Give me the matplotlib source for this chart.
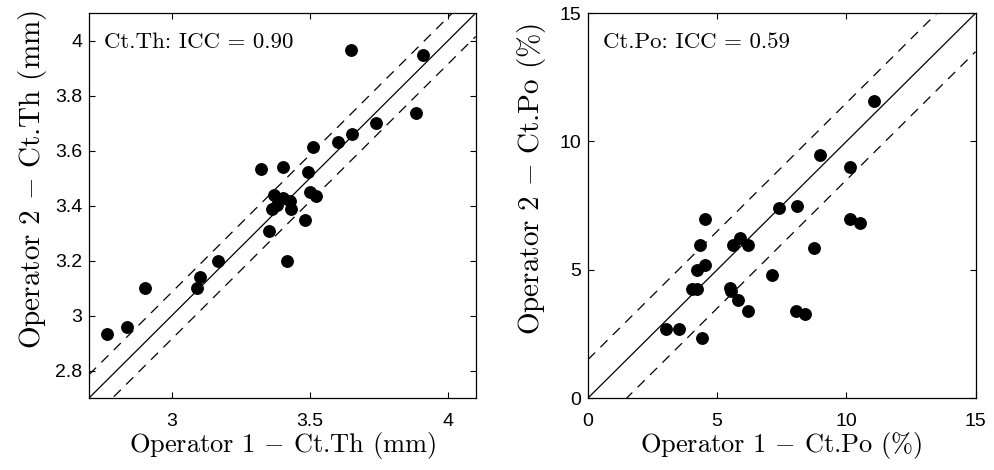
import matplotlib
matplotlib.use("Agg")
import matplotlib.pyplot as plt

plt.rcParams["mathtext.fontset"] = "cm"
plt.rcParams["font.family"] = ["Liberation Sans", "DejaVu Sans"]

# Ct.Th (mm): operator 1 vs operator 2
th_op1 = [2.765, 2.837, 2.904, 3.090, 3.102, 3.169, 3.647, 3.910, 3.883, 3.741,
          3.651, 3.600, 3.512, 3.323, 3.401, 3.492, 3.371, 3.500, 3.522, 3.401,
          3.428, 3.361, 3.380, 3.431, 3.482, 3.352, 3.416]
th_op2 = [2.933, 2.960, 3.100, 3.100, 3.139, 3.199, 3.965, 3.949, 3.738, 3.699,
          3.661, 3.631, 3.615, 3.535, 3.540, 3.523, 3.438, 3.450, 3.435, 3.427,
          3.417, 3.387, 3.402, 3.387, 3.348, 3.308, 3.199]

# Ct.Po (%): operator 1 vs operator 2
po_op1 = [11.05, 8.96, 10.15, 7.40, 8.08, 4.51, 10.15, 10.51, 4.35, 5.60,
          5.90, 6.18, 8.74, 4.22, 4.51, 7.14, 4.03, 4.22, 5.50, 5.53,
          5.79, 6.21, 8.06, 8.40, 3.01, 3.51, 4.41]
po_op2 = [11.57, 9.46, 9.00, 7.40, 7.49, 6.97, 6.97, 6.82, 5.98, 5.98,
          6.24, 5.98, 5.84, 5.00, 5.19, 4.81, 4.24, 4.24, 4.30, 4.16,
          3.84, 3.40, 3.40, 3.26, 2.68, 2.68, 2.33]

panels = [
    dict(x=th_op1, y=th_op2, lim=(2.7, 4.1), band=0.085,
         xticks=[3, 3.5, 4], xticklabels=["3", "3.5", "4"],
         yticks=[2.8, 3.0, 3.2, 3.4, 3.6, 3.8, 4.0],
         yticklabels=["2.8", "3", "3.2", "3.4", "3.6", "3.8", "4"],
         xlabel=r"Operator 1 $-$ Ct.Th (mm)",
         ylabel=r"Operator 2 $-$ Ct.Th (mm)",
         note="Ct.Th: ICC = 0.90",
         pos=[0.0895, 0.153, 0.389, 0.819]),
    dict(x=po_op1, y=po_op2, lim=(0, 15), band=1.5,
         xticks=[0, 5, 10, 15], xticklabels=["0", "5", "10", "15"],
         yticks=[0, 5, 10, 15], yticklabels=["0", "5", "10", "15"],
         xlabel=r"Operator 1 $-$ Ct.Po (%)",
         ylabel=r"Operator 2 $-$ Ct.Po (%)",
         note="Ct.Po: ICC = 0.59",
         pos=[0.5915, 0.153, 0.390, 0.819]),
]

fig = plt.figure(figsize=(9.94, 4.70), dpi=100)

for p in panels:
    ax = fig.add_axes(p["pos"])
    lo, hi = p["lim"]
    ax.plot([lo, hi], [lo, hi], color="black", lw=0.9)
    d = p["band"]
    ax.plot([lo, hi], [lo + d, hi + d], color="black", lw=0.9, ls=(0, (8, 6)))
    ax.plot([lo, hi], [lo - d, hi - d], color="black", lw=0.9, ls=(0, (8, 6)))
    ax.scatter(p["x"], p["y"], s=68, color="black", zorder=3)
    ax.set_xlim(lo, hi)
    ax.set_ylim(lo, hi)
    ax.set_xticks(p["xticks"])
    ax.set_xticklabels(p["xticklabels"])
    ax.set_yticks(p["yticks"])
    ax.set_yticklabels(p["yticklabels"])
    ax.tick_params(direction="in", top=True, right=True, length=4,
                   labelsize=14, width=0.8)
    ax.tick_params(axis="x", pad=11)
    ax.tick_params(axis="y", pad=5)
    for s in ax.spines.values():
        s.set_linewidth(0.9)
    ax.set_xlabel(p["xlabel"], fontsize=19, labelpad=0, fontfamily="cmr10")
    ax.set_ylabel(p["ylabel"], fontsize=21, fontfamily="cmr10")
    ax.yaxis.set_label_coords(-0.103, 0.569)
    ax.text(0.039, 0.909, p["note"], transform=ax.transAxes, fontsize=16.5,
            ha="left", va="baseline", fontfamily="cmr10")

fig.savefig("out.png", dpi=100)
